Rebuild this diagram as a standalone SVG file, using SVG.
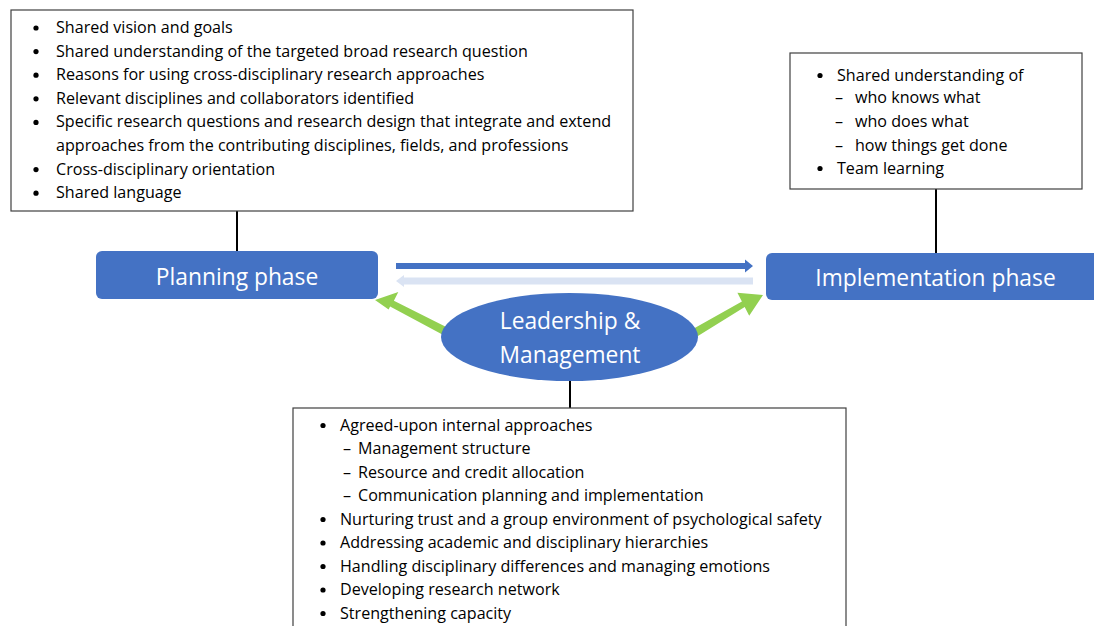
<svg xmlns="http://www.w3.org/2000/svg" width="1094" height="626" viewBox="0 0 1094 626">
<style>
.box{fill:#fff;stroke:#404040;stroke-width:1.2}
.phase{fill:#4472C4}
.t{font-family:"Open Sans","Liberation Sans",sans-serif;font-size:16.1px;fill:#000}
.w{font-family:"Open Sans","Liberation Sans",sans-serif;font-size:22.8px;fill:#fff}
.ln{stroke:#000;stroke-width:2;fill:none}
</style>
<rect width="1094" height="626" fill="#fff"/>
<g id="connectors">
<line class="ln" x1="237" y1="211" x2="237" y2="251"/>
<line class="ln" x1="936" y1="189" x2="936" y2="253"/>
<line class="ln" x1="570" y1="380" x2="570" y2="408"/>
<polygon fill="#4472C4" points="396,263 745,263 745,259.5 753,266 745,272.5 745,269 396,269"/>
<polygon fill="#DAE3F3" points="753,277.5 404,277.5 404,275 396,281 404,287 404,284.5 753,284.5"/>
<polygon fill="#92D050" points="462.2,334.9 393.9,300.8 398.3,292 375,300 388.6,309.5 390.1,306.5 458.2,343.1"/>
<polygon fill="#92D050" points="677.8,337.6 741.9,301.6 737.4,292.8 763,295 749.2,315.7 744.7,307.0 682.2,345.7"/>
</g>
<g id="planning-box">
<rect class="box" x="11" y="10" width="622" height="201"/>
<g class="t">
<circle cx="36" cy="28" r="2.6"/><text x="56" y="33">Shared vision and goals</text>
<circle cx="36" cy="51.6" r="2.6"/><text x="56" y="56.6">Shared understanding of the targeted broad research question</text>
<circle cx="36" cy="75.2" r="2.6"/><text x="56" y="80.2">Reasons for using cross-disciplinary research approaches</text>
<circle cx="36" cy="98.8" r="2.6"/><text x="56" y="103.8">Relevant disciplines and collaborators identified</text>
<circle cx="36" cy="122.4" r="2.6"/><text x="56" y="127.4">Specific research questions and research design that integrate and extend</text>
<text x="56" y="151">approaches from the contributing disciplines, fields, and professions</text>
<circle cx="36" cy="169.6" r="2.6"/><text x="56" y="174.6">Cross-disciplinary orientation</text>
<circle cx="36" cy="193.2" r="2.6"/><text x="56" y="198.2">Shared language</text>
</g>
</g>
<g id="implementation-box">
<rect class="box" x="790" y="53" width="292" height="136"/>
<g class="t">
<circle cx="820" cy="75.5" r="2.6"/><text x="837" y="80.5">Shared understanding of</text>
<text x="835" y="103.3">–</text><text x="855" y="103.3">who knows what</text>
<text x="835" y="127">–</text><text x="855" y="127">who does what</text>
<text x="835" y="150.5">–</text><text x="855" y="150.5">how things get done</text>
<circle cx="820" cy="168.5" r="2.6"/><text x="837" y="173.5">Team learning</text>
</g>
</g>
<g id="planning-phase">
<rect class="phase" x="96" y="251" width="282" height="48" rx="6"/>
<text class="w" x="237" y="284.5" text-anchor="middle">Planning phase</text>
</g>
<g id="implementation-phase">
<rect class="phase" x="766" y="253" width="340" height="47" rx="6"/>
<text class="w" x="935.5" y="286" text-anchor="middle">Implementation phase</text>
</g>
<g id="leadership">
<ellipse class="phase" cx="569.5" cy="337" rx="128.5" ry="44"/>
<text class="w" x="570" y="329" text-anchor="middle">Leadership &amp;</text>
<text class="w" x="570" y="363" text-anchor="middle">Management</text>
</g>
<g id="leadership-box">
<rect class="box" x="293" y="408" width="553" height="230"/>
<g class="t">
<circle cx="323" cy="425.5" r="2.6"/><text x="340" y="430.5">Agreed-upon internal approaches</text>
<text x="343" y="454">–</text><text x="358" y="454">Management structure</text>
<text x="343" y="477.5">–</text><text x="358" y="477.5">Resource and credit allocation</text>
<text x="343" y="501">–</text><text x="358" y="501">Communication planning and implementation</text>
<circle cx="323" cy="519.5" r="2.6"/><text x="340" y="524.5">Nurturing trust and a group environment of psychological safety</text>
<circle cx="323" cy="543" r="2.6"/><text x="340" y="548">Addressing academic and disciplinary hierarchies</text>
<circle cx="323" cy="566.5" r="2.6"/><text x="340" y="571.5">Handling disciplinary differences and managing emotions</text>
<circle cx="323" cy="590" r="2.6"/><text x="340" y="595">Developing research network</text>
<circle cx="323" cy="613.5" r="2.6"/><text x="340" y="618.5">Strengthening capacity</text>
</g>
</g>
</svg>
